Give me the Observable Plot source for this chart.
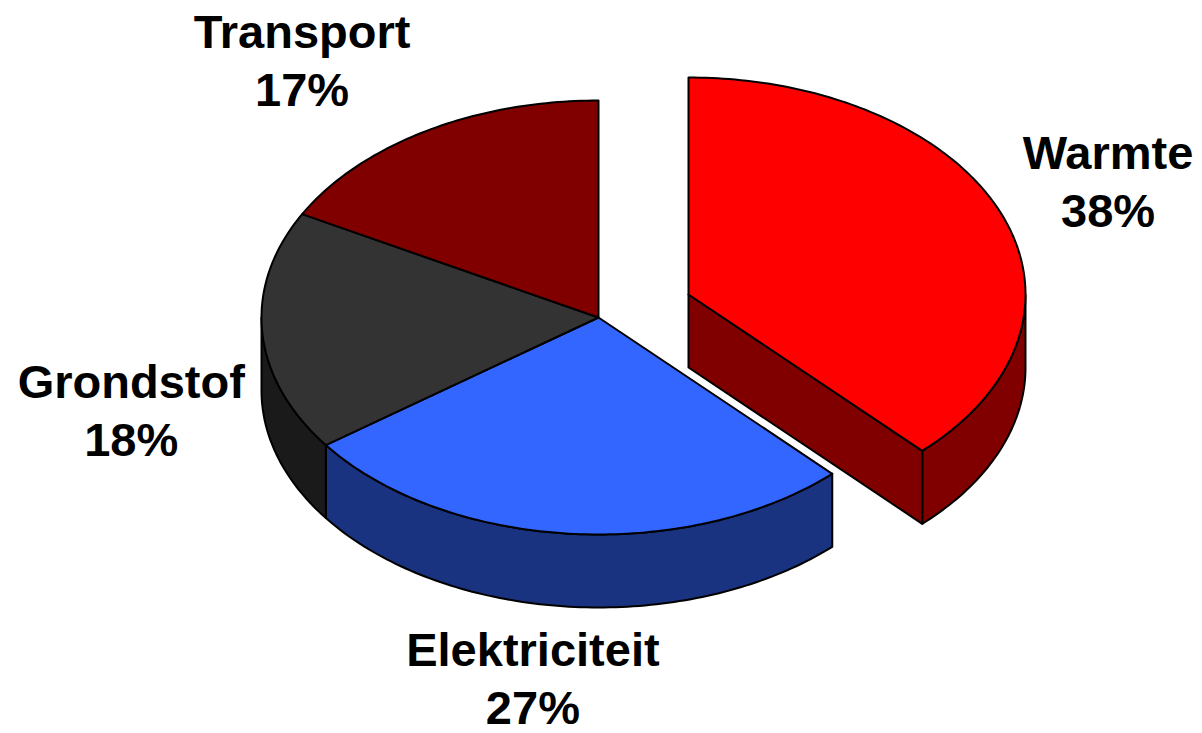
<!DOCTYPE html>
<html><head><meta charset="utf-8">
<style>html,body{margin:0;padding:0;background:#fff}svg{display:block}</style>
<script src="https://cdn.jsdelivr.net/npm/d3@7"></script>
<script src="https://cdn.jsdelivr.net/npm/@observablehq/plot@0.6"></script>
</head><body><script>
const categories = ["Warmte", "Elektriciteit", "Grondstof", "Transport"];
const shares = [37.8, 27.2, 17.9, 17.1];
const topColors = ["#ff0000", "#3366ff", "#333333", "#800000"];
const sideColors = ["#800000", "#1a3380", "#1a1a1a", "#800000"];

// model units: pie radius = 1 in both directions, squashed by the scales
const depth = 73 / 217;
const explode = [[90 / 337, -23 / 217], [0, 0], [0, 0], [0, 0]];
const labelOffsets = [[107, -34], [-36, 143], [-131, 77], [-124, -73]];

const rad = d => d * Math.PI / 180;
const rim = (a, i, drop = 0) => ({
  x: explode[i][0] + Math.sin(rad(a)),
  y: explode[i][1] - Math.cos(rad(a)) + drop
});
const arc = (a0, a1, i, drop = 0) => {
  const n = Math.max(2, Math.ceil(Math.abs(a1 - a0)));
  return d3.range(n + 1).map(k => rim(a0 + (a1 - a0) * k / n, i, drop));
};
let acc = 0;
const slices = categories.map((name, i) => {
  const a0 = acc * 3.6; acc += shares[i];
  return {name, i, a0, a1: acc * 3.6, share: Math.round(shares[i])};
});
const apex = (i, drop = 0) => ({x: explode[i][0], y: explode[i][1] + drop});
const closed = p => [...p, p[0]];
const poly = (p, fill) => Plot.line(closed(p), {x: "x", y: "y", fill, stroke: "#000", strokeWidth: 2, strokeLinejoin: "round", curve: "linear"});

const marks = [];
slices.forEach(s => {
  // the outer wall, only where it faces the viewer (90 to 270 degrees)
  const from = Math.max(s.a0, 90), to = Math.min(s.a1, 270);
  if (from < to) marks.push(poly([...arc(from, to, s.i), ...arc(to, from, s.i, depth)], sideColors[s.i]));
  // the cut face of the pulled-out slice
  if (explode[s.i][0] !== 0) marks.push(poly([apex(s.i), rim(s.a1, s.i), rim(s.a1, s.i, depth), apex(s.i, depth)], sideColors[s.i]));
});
slices.forEach(s => marks.push(poly([apex(s.i), ...arc(s.a0, s.a1, s.i)], topColors[s.i])));
slices.forEach(s => {
  const p = rim((s.a0 + s.a1) / 2, s.i);
  const [dx, dy] = labelOffsets[s.i];
  marks.push(Plot.text([{...p, t: `${s.name}\n${s.share}%`}], {
    x: "x", y: "y", text: "t", dx, dy, fontSize: 47, fontWeight: "bold",
    fontFamily: "Liberation Sans", fill: "#000", lineHeight: 1.234, textAnchor: "middle"
  }));
});

document.body.append(Plot.plot({
  width: 1202, height: 733, margin: 0,
  x: {domain: [-598 / 337, 604 / 337], range: [0, 1202], axis: null},
  y: {domain: [-317 / 217, 416 / 217], range: [0, 733], axis: null},
  marks
}));
</script></body></html>
